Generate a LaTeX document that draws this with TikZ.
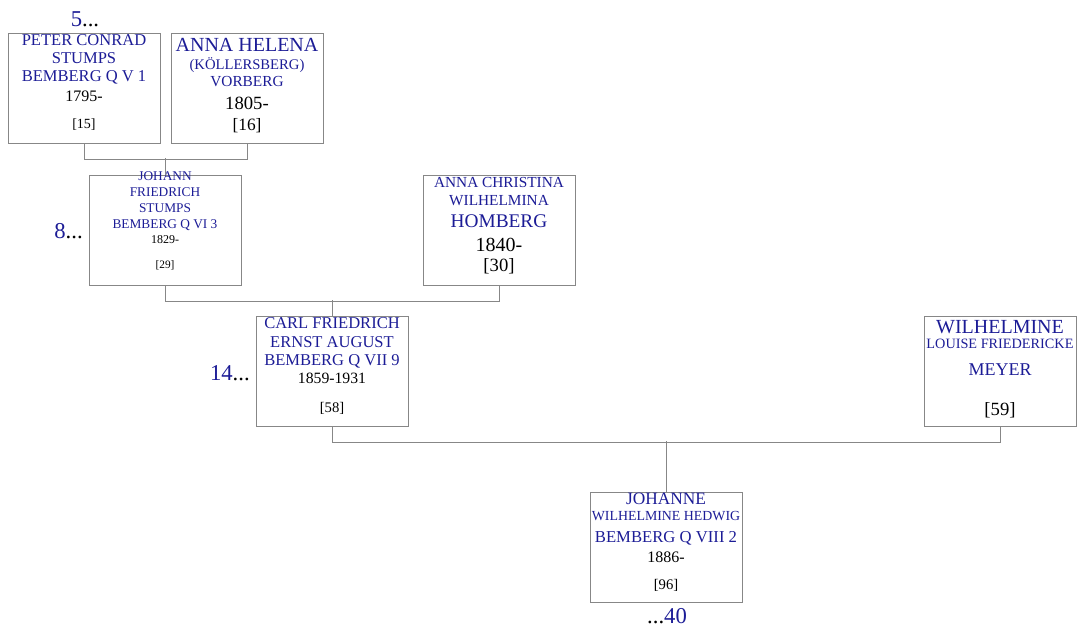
\documentclass[tikz,border=0pt]{standalone}
\usepackage{fontspec}
\setmainfont{Liberation Serif}
\definecolor{namecol}{RGB}{28,28,150}
\definecolor{linecol}{RGB}{135,135,135}
\newcommand\fsz[1]{\fontsize{#1}{#1}\selectfont}
\tikzset{
  box/.style={draw=linecol, line width=1.1pt, minimum width=114pt, minimum height=82.5pt, inner sep=0pt, anchor=north west},
  nm/.style={anchor=base, inner sep=0pt, text=namecol},
  yr/.style={anchor=base, inner sep=0pt, text=black},
  lnk/.style={draw=linecol, line width=1.1pt},
  gen/.style={anchor=base, inner sep=0pt, text=namecol, font=\fsz{17}}
}
\begin{document}
\begin{tikzpicture}[x=0.75pt,y=-0.75pt]
\useasboundingbox (0,0) rectangle (1079,631);
% boxes
\node[box] (peter) at (8,33) {};
\node[box] (helena) at (171,33) {};
\node[box] (johann) at (89,175) {};
\node[box] (christina) at (423,175) {};
\node[box] (carl) at (256,316) {};
\node[box] (meyer) at (924,316) {};
\node[box] (johanne) at (590,492) {};
% peter conrad
\node[nm,font=\fsz{12.4}] (p1) at (84,46) {PETER CONRAD};
\node[nm,font=\fsz{12.4}] (p2) at (84,64) {STUMPS};
\node[nm,font=\fsz{12.4}] (p3) at (84,82) {BEMBERG Q V 1};
\node[yr,font=\fsz{12}] (p4) at (84,102) {1795-};
\node[yr,font=\fsz{10.5}] (p5) at (84,129) {[15]};
% anna helena
\node[nm,font=\fsz{15}] (h1) at (247,52) {ANNA HELENA};
\node[nm,font=\fsz{11}] (h2) at (247,70) {(KÖLLERSBERG)};
\node[nm,font=\fsz{11.5}] (h3) at (247,87) {VORBERG};
\node[yr,font=\fsz{14}] (h4) at (247,110) {1805-};
\node[yr,font=\fsz{13}] (h5) at (247,131) {[16]};
% johann friedrich
\node[nm,font=\fsz{10}] (j1) at (165,181) {JOHANN};
\node[nm,font=\fsz{10}] (j2) at (165,197) {FRIEDRICH};
\node[nm,font=\fsz{10}] (j3) at (165,213) {STUMPS};
\node[nm,font=\fsz{10}] (j4) at (165,229) {BEMBERG Q VI 3};
\node[yr,font=\fsz{9}] (j5) at (165,244) {1829-};
\node[yr,font=\fsz{8.5}] (j6) at (165,268) {[29]};
% anna christina
\node[nm,font=\fsz{11.5}] (c1) at (499,188) {ANNA CHRISTINA};
\node[nm,font=\fsz{11.5}] (c2) at (499,206) {WILHELMINA};
\node[nm,font=\fsz{14.5}] (c3) at (499,228) {HOMBERG};
\node[yr,font=\fsz{15}] (c4) at (499,252) {1840-};
\node[yr,font=\fsz{14}] (c5) at (499,272) {[30]};
% carl friedrich
\node[nm,font=\fsz{12.4}] (k1) at (332,328) {CARL FRIEDRICH};
\node[nm,font=\fsz{12.4}] (k2) at (332,347) {ERNST AUGUST};
\node[nm,font=\fsz{12.4}] (k3) at (332,365) {BEMBERG Q VII 9};
\node[yr,font=\fsz{11.8}] (k4) at (332,383) {1859-1931};
\node[yr,font=\fsz{11}] (k5) at (332,412) {[58]};
% wilhelmine meyer
\node[nm,font=\fsz{15}] (m1) at (1000,333) {WILHELMINE};
\node[nm,font=\fsz{10.7}] (m2) at (1000,349) {LOUISE FRIEDERICKE};
\node[nm,font=\fsz{13.5}] (m3) at (1000,375) {MEYER};
\node[yr,font=\fsz{14}] (m4) at (1000,415) {[59]};
% johanne
\node[nm,font=\fsz{13}] (g1) at (666,504) {JOHANNE};
\node[nm,font=\fsz{10.4}] (g2) at (666,520) {WILHELMINE HEDWIG};
\node[nm,font=\fsz{12.5}] (g3) at (666,542) {BEMBERG Q VIII 2};
\node[yr,font=\fsz{12}] (g4) at (666,562) {1886-};
\node[yr,font=\fsz{11}] (g5) at (666,589) {[96]};
% generation numbers
\node[gen] (n5) at (85,27) {5\textcolor{black}{...}};
\node[gen,anchor=base east] (n8) at (83,239) {8\textcolor{black}{...}};
\node[gen,anchor=base east] (n14) at (250,380) {14\textcolor{black}{...}};
\node[gen] (n40) at (667,623) {\textcolor{black}{...}40};
% family lines
\draw[lnk] (peter.south) -- ++(0,15) -| (helena.south);
\draw[lnk] (johann.north) -- ++(0,-17);
\draw[lnk] (johann.south) -- ++(0,15) -| (christina.south);
\draw[lnk] (carl.north) -- ++(0,-16);
\draw[lnk] (carl.south) -- ++(0,15) -| (meyer.south);
\draw[lnk] (johanne.north) -- ++(0,-51);
\end{tikzpicture}
\end{document}
